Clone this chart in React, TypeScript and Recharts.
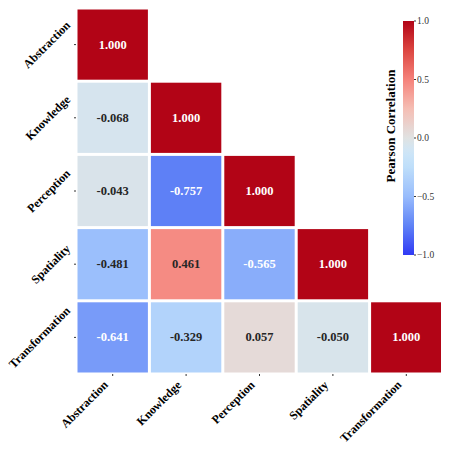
import React from 'react';
import { ScatterChart, Scatter, XAxis, YAxis } from 'recharts';

const variables = ['Abstraction', 'Knowledge', 'Perception', 'Spatiality', 'Transformation'];
const abstractionRow = [1.0];
const knowledgeRow = [-0.068, 1.0];
const perceptionRow = [-0.043, -0.757, 1.0];
const spatialityRow = [-0.481, 0.461, -0.565, 1.0];
const transformationRow = [-0.641, -0.329, 0.057, -0.05, 1.0];
const colorbarTicks = [1.0, 0.5, 0.0, -0.5, -1.0];
const colorbarLabel = 'Pearson Correlation';

const rows = [abstractionRow, knowledgeRow, perceptionRow, spatialityRow, transformationRow];
const cells = rows.flatMap((row, r) => row.map((v, c) => ({ x: c, y: r, v })));

// diverging colormap anchors (value -> rgb)
const cmap: [number, number[]][] = [
  [-1.0, [48, 58, 245]],
  [-0.75, [95, 130, 246]],
  [-0.5, [152, 188, 252]],
  [-0.25, [190, 222, 250]],
  [-0.125, [205, 230, 248]],
  [0.0, [224, 226, 226]],
  [0.25, [245, 190, 180]],
  [0.5, [245, 130, 122]],
  [0.75, [220, 70, 65]],
  [1.0, [178, 4, 22]],
];
function colorOf(v: number): string {
  for (let i = 0; i < cmap.length - 1; i++) {
    const [a, ca] = cmap[i];
    const [b, cb] = cmap[i + 1];
    if (v <= b || i === cmap.length - 2) {
      const t = Math.max(0, Math.min(1, (v - a) / (b - a)));
      const c = ca.map((x, k) => Math.round(x + (cb[k] - x) * t));
      return `rgb(${c[0]},${c[1]},${c[2]})`;
    }
  }
  return '#000';
}

const W = 441;
const H = 441;
const M = { top: 0, right: 6, bottom: 0, left: 0 };
const Y_W = 68;
const X_H = 75;
const plotW = W - M.left - M.right - Y_W;
const plotH = H - M.top - M.bottom - X_H;
const pitchX = plotW / 5;
const pitchY = plotH / 5;
const GAP = 3;
const FONT = '"Liberation Serif", "Times New Roman", serif';
const TICK_FS = 12;

let ctx: CanvasRenderingContext2D | null = null;
function measure(text: string, fs: number): number {
  if (!ctx && typeof document !== 'undefined') {
    ctx = document.createElement('canvas').getContext('2d');
  }
  if (!ctx) return text.length * fs * 0.55;
  ctx.font = `bold ${fs}px "Liberation Serif"`;
  return ctx.measureText(text).width;
}

const CellShape = (props: any) => {
  const { cx, cy, payload } = props;
  const v: number = payload.v;
  const w = pitchX - GAP;
  const h = pitchY - GAP;
  const light = Math.abs(v) >= 0.55;
  return (
    <g>
      <rect x={cx - w / 2} y={cy - h / 2} width={w} height={h} fill={colorOf(v)} />
      <text
        x={cx}
        y={cy}
        textAnchor="middle"
        dominantBaseline="central"
        fontFamily={FONT}
        fontWeight="bold"
        fontSize={12.5}
        fill={light ? '#ffffff' : '#262626'}
      >
        {v.toFixed(3)}
      </text>
    </g>
  );
};

const YTick = (props: any) => {
  const { x, y, payload } = props;
  const label = variables[payload.value];
  const L = measure(label, TICK_FS);
  const w = (L + 0.9 * TICK_FS) / Math.SQRT2;
  const cx = x - w / 2;
  return (
    <text
      x={cx}
      y={y}
      transform={`rotate(-45, ${cx}, ${y})`}
      textAnchor="middle"
      dominantBaseline="central"
      fontFamily={FONT}
      fontWeight="bold"
      fontSize={TICK_FS}
      fill="#000"
    >
      {label}
    </text>
  );
};

const XTick = (props: any) => {
  const { x, y, payload } = props;
  const label = variables[payload.value];
  const L = measure(label, TICK_FS);
  const w = (L + 0.9 * TICK_FS) / Math.SQRT2;
  const cx = x - 3 - w / 2;
  const cy = y + 1 + w / 2;
  return (
    <text
      x={cx}
      y={cy}
      transform={`rotate(-45, ${cx}, ${cy})`}
      textAnchor="middle"
      dominantBaseline="central"
      fontFamily={FONT}
      fontWeight="bold"
      fontSize={TICK_FS}
      fill="#000"
    >
      {label}
    </text>
  );
};

const CB_X = 395;
const CB_W = 11;
const CB_TOP = 13;
const CB_H = 234;
const cbY = (v: number) => CB_TOP + ((1 - v) / 2) * CB_H;
const gradientStops = Array.from({ length: 41 }, (_, i) => 1 - i * 0.05);

const Colorbar = () => (
  <svg
    width={W}
    height={H}
    style={{ position: 'absolute', left: 0, top: 0, pointerEvents: 'none' }}
  >
    <defs>
      <linearGradient id="cbGrad" x1="0" y1="0" x2="0" y2="1">
        {gradientStops.map((v, i) => (
          <stop key={i} offset={`${(i / (gradientStops.length - 1)) * 100}%`} stopColor={colorOf(v)} />
        ))}
      </linearGradient>
    </defs>
    <rect x={CB_X} y={CB_TOP} width={CB_W} height={CB_H} fill="url(#cbGrad)" />
    {colorbarTicks.map((t) => (
      <g key={t}>
        <line x1={CB_X + CB_W} x2={CB_X + CB_W + 2} y1={cbY(t)} y2={cbY(t)} stroke="#333" strokeWidth={1} />
        <text
          x={CB_X + CB_W + 3}
          y={cbY(t)}
          dominantBaseline="central"
          fontFamily={FONT}
          fontSize={9.5}
          fill="#333"
        >
          {t < 0 ? `\u2212${Math.abs(t).toFixed(1)}` : t.toFixed(1)}
        </text>
      </g>
    ))}
    <text
      x={382}
      y={118}
      transform={`rotate(-90, 382, 118)`}
      textAnchor="middle"
      dominantBaseline="central"
      fontFamily={FONT}
      fontWeight="bold"
      fontSize={13}
      fill="#000"
    >
      {colorbarLabel}
    </text>
  </svg>
);

export default function App() {
  return (
    <div style={{ position: 'relative', width: W, height: H, background: '#fff' }}>
      <ScatterChart width={W} height={H} margin={M}>
        <XAxis
          type="number"
          dataKey="x"
          domain={[-0.5, 4.5]}
          ticks={[0, 1, 2, 3, 4]}
          interval={0}
          height={X_H}
          axisLine={false}
          tickLine={{ stroke: '#333' }}
          tickSize={2}
          tick={<XTick />}
        />
        <YAxis
          type="number"
          dataKey="y"
          domain={[-0.5, 4.5]}
          reversed
          ticks={[0, 1, 2, 3, 4]}
          interval={0}
          width={Y_W}
          axisLine={false}
          tickLine={{ stroke: '#333' }}
          tickSize={2}
          tick={<YTick />}
        />
        <Scatter data={cells} shape={<CellShape />} isAnimationActive={false} />
      </ScatterChart>
      <Colorbar />
    </div>
  );
}
